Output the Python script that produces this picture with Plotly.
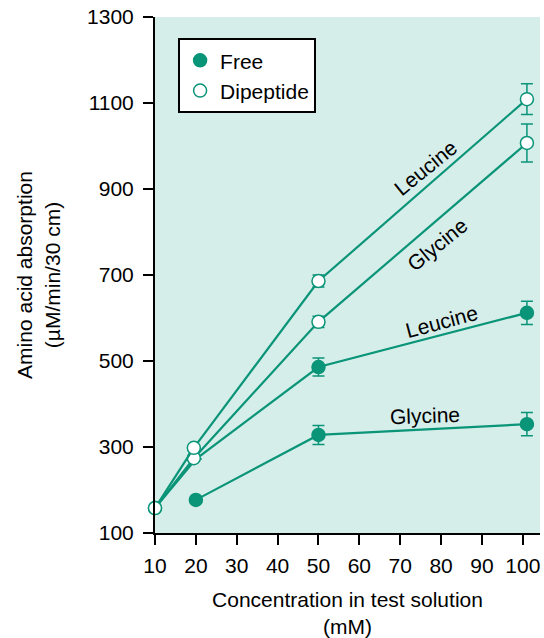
import plotly.graph_objects as go

# concentrations (mM)
conc_dip = [10, 19.5, 50, 101]
conc_free_leu = [10, 20, 50, 101]
conc_free_gly = [20, 50, 101]

# absorption (uM/min/30 cm)
leu_dip = [158, 298, 686, 1109]
leu_dip_err = [None, None, 14, 36]
gly_dip = [158, 274, 591, 1007]
gly_dip_err = [None, None, 13, 44]
leu_free = [158, 272, 486, 612]
leu_free_err = [None, None, 21, 27]
gly_free = [177, 328, 353]
gly_free_err = [None, 22, 27]

xticks = [10, 20, 30, 40, 50, 60, 70, 80, 90, 100]
yticks = [100, 300, 500, 700, 900, 1100, 1300]

teal = '#0a9478'
bg = '#d6eeea'
fnt = 'Liberation Sans, Arial, sans-serif'

fig = go.Figure()

def add_line(x, y, err, filled, sizes=None):
    fig.add_trace(go.Scatter(
        x=x, y=y, mode='lines+markers', showlegend=False,
        line=dict(color=teal, width=2.2),
        marker=dict(size=sizes if sizes else 13, color=teal if filled else 'white',
                    opacity=1, line=dict(color=teal, width=1.5)),
        error_y=dict(type='data', array=err, visible=True, color=teal,
                     thickness=1.5, width=6),
        cliponaxis=False))

add_line(conc_free_gly, gly_free, gly_free_err, True)
add_line(conc_free_leu, leu_free, leu_free_err, True, sizes=[0, 0, 13, 13])
add_line(conc_dip, gly_dip, gly_dip_err, False)
add_line(conc_dip, leu_dip, leu_dip_err, False)

# legend-only entries
fig.add_trace(go.Scatter(x=[None], y=[None], mode='markers', name='Free',
                         marker=dict(size=13, color=teal, line=dict(color=teal, width=1.5))))
fig.add_trace(go.Scatter(x=[None], y=[None], mode='markers', name='Dipeptide',
                         marker=dict(size=13, color='white', line=dict(color=teal, width=1.5))))

labels = [
    dict(x=76.3, y=949, text='Leucine', textangle=-39),
    dict(x=79.0, y=772, text='Glycine', textangle=-39),
    dict(x=80.2, y=591, text='Leucine', textangle=-15),
    dict(x=76.0, y=374, text='Glycine', textangle=-2),
]

fig.update_layout(
    width=544, height=638,
    paper_bgcolor='white', plot_bgcolor=bg,
    margin=dict(l=155, r=4, t=17, b=105),
    font=dict(family=fnt, size=21, color='black'),
    legend=dict(x=0.06, y=0.959, xanchor='left', yanchor='top',
                bgcolor='white', bordercolor='black', borderwidth=2,
                font=dict(size=21), itemwidth=30, tracegroupgap=0),
    annotations=[dict(x=l['x'], y=l['y'], xref='x', yref='y', text=l['text'],
                      textangle=l['textangle'], showarrow=False,
                      font=dict(family=fnt, size=21, color='black')) for l in labels],
)

fig.update_xaxes(range=[10, 104.2], tickvals=xticks, ticks='outside', ticklen=10,
                 tickwidth=1.5, tickcolor='black', showline=True, linewidth=2,
                 linecolor='black', showgrid=False, zeroline=False, automargin=False,
                 tickfont=dict(size=21), ticklabelstandoff=3,
                 title=dict(text='Concentration in test solution<br>(mM)', standoff=20,
                            font=dict(size=21)))
fig.update_yaxes(range=[100, 1300], tickvals=yticks, ticks='outside', ticklen=10,
                 tickwidth=1.5, tickcolor='black', showline=True, linewidth=2,
                 linecolor='black', showgrid=False, zeroline=False, automargin=False,
                 tickfont=dict(size=21), ticklabelstandoff=5,
                 title=dict(text='Amino acid absorption<br>(µM/min/30 cm)', standoff=21,
                            font=dict(size=21)))

fig.write_html('out.html', config=dict(displayModeBar=False),
               post_script="document.body.style.margin='0';document.body.style.overflow='hidden';")
